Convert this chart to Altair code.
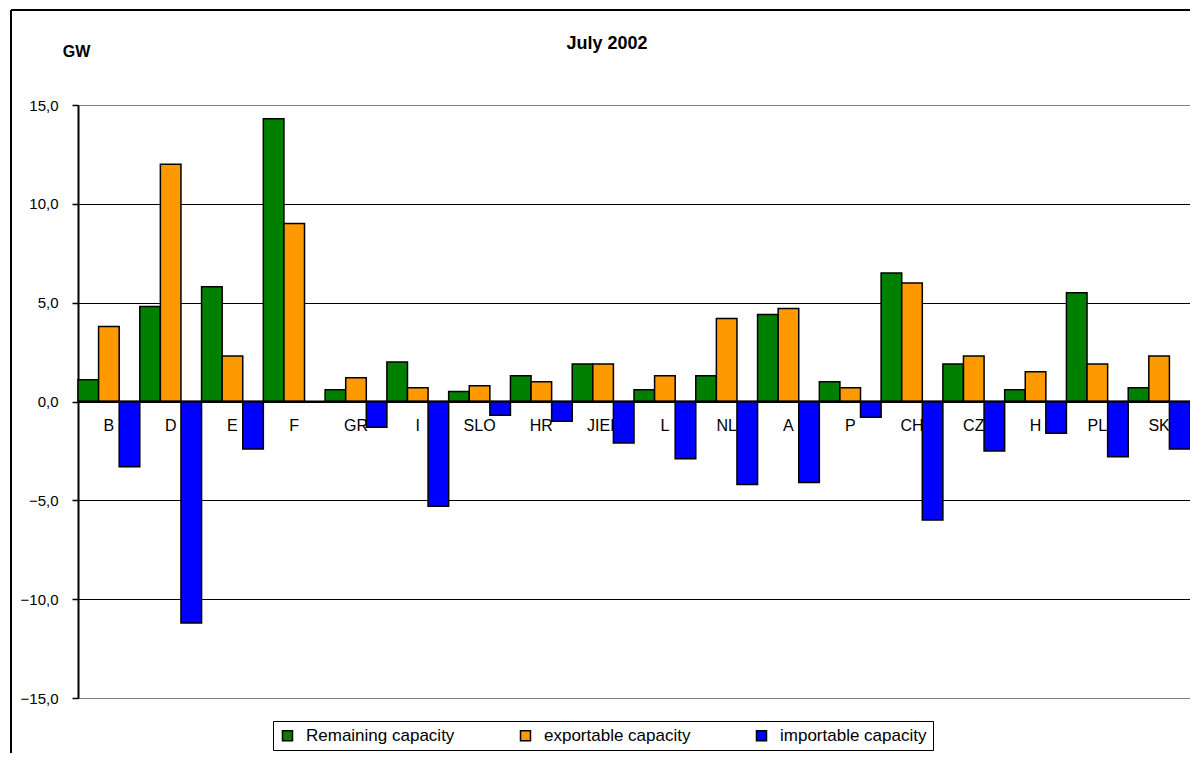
import altair as alt
import pandas as pd

categories = ["B", "D", "E", "F", "GR", "I", "SLO", "HR", "JIEL", "L",
              "NL", "A", "P", "CH", "CZ", "H", "PL", "SK"]
remaining = [1.1, 4.8, 5.8, 14.3, 0.6, 2.0, 0.5, 1.3, 1.9, 0.6,
             1.3, 4.4, 1.0, 6.5, 1.9, 0.6, 5.5, 0.7]
exportable = [3.8, 12.0, 2.3, 9.0, 1.2, 0.7, 0.8, 1.0, 1.9, 1.3,
              4.2, 4.7, 0.7, 6.0, 2.3, 1.5, 1.9, 2.3]
importable = [-3.3, -11.2, -2.4, None, -1.3, -5.3, -0.7, -1.0, -2.1, -2.9,
              -4.2, -4.1, -0.8, -6.0, -2.5, -1.6, -2.8, -2.4]
series = ["Remaining capacity", "exportable capacity", "importable capacity"]
colors = ["#008000", "#FF9900", "#0000FF"]
y_ticks = [-15, -10, -5, 0, 5, 10, 15]
title_text = "July 2002"
unit_text = "GW"

rows = []
for i, c in enumerate(categories):
    for s, vals in zip(series, [remaining, exportable, importable]):
        v = vals[i]
        if v is not None:
            rows.append({"country": c, "series": s, "value": v})
df = pd.DataFrame(rows)
cat_df = pd.DataFrame({"country": categories, "zero": [0] * len(categories)})

FONT = "Liberation Sans"

x_enc = alt.X("country:N", sort=categories,
              scale=alt.Scale(paddingInner=0, paddingOuter=0),
              axis=None)

y_scale = alt.Scale(domain=[-15, 15], nice=False)

labels = alt.Chart(cat_df).mark_text(
    fontSize=16, font=FONT, color="black", dy=24, baseline="middle", align="center"
).encode(
    x=alt.X("country:N", sort=categories,
            scale=alt.Scale(paddingInner=0, paddingOuter=0), axis=None,
            bandPosition=0.5),
    y=alt.Y("zero:Q", scale=y_scale),
    text=alt.Text("country:N"),
)

bars = alt.Chart(df).mark_bar(stroke="black", strokeWidth=1.5).encode(
    x=x_enc,
    xOffset=alt.XOffset("series:N", sort=series),
    y=alt.Y("value:Q", scale=y_scale,
            axis=alt.Axis(values=y_ticks, title=unit_text,
                          labelExpr="replace(format(datum.value, '.1f'), '.', ',')",
                          labelFontSize=15, labelFont=FONT, labelColor="black",
                          labelPadding=14, tickSize=6, tickColor="black",
                          tickWidth=1.5, domainColor="black", domainWidth=2,
                          gridColor={"condition": {"test": "abs(datum.value) == 15", "value": "#808080"}, "value": "black"},
                          gridWidth=1.2,
                          titleAngle=0, titleX=-2, titleY=-54,
                          titleAlign="center", titleBaseline="middle",
                          titleFont=FONT, titleFontSize=16, titleFontWeight="bold",
                          titleColor="black")),
    fill=alt.Fill("series:N", sort=series,
                  scale=alt.Scale(domain=series, range=colors),
                  legend=alt.Legend(title=None, orient="none", direction="horizontal",
                                    legendX=195, legendY=616,
                                    strokeColor="black", padding=6,
                                    symbolType="square", symbolSize=100,
                                    symbolStrokeColor="black", symbolStrokeWidth=1.5,
                                    labelFontSize=17, labelFont=FONT, labelColor="black",
                                    labelOffset=10, columnPadding=62, symbolOffset=0)),
)

zero_rule = alt.Chart(pd.DataFrame({"zero": [0]})).mark_rule(
    color="black", strokeWidth=2
).encode(y=alt.Y("zero:Q", scale=y_scale))

title_mark = alt.Chart(pd.DataFrame({"t": [title_text]})).mark_text(
    font=FONT, fontSize=18, fontWeight="bold", color="black",
    align="center", baseline="middle"
).encode(x=alt.value(529), y=alt.value(-61), text=alt.Text("t:N"))

border_df = pd.DataFrame({"k": [0]})
left_border = alt.Chart(border_df).mark_rule(color="black", strokeWidth=2).encode(
    x=alt.value(-67), y=alt.value(-95), y2=alt.value(700))
top_border = alt.Chart(border_df).mark_rule(color="black", strokeWidth=2).encode(
    x=alt.value(-67), x2=alt.value(1130), y=alt.value(-95))

chart = alt.layer(labels, bars, zero_rule, title_mark, left_border, top_border).properties(
    width=1112, height=593,
    autosize=alt.AutoSizeParams(type="none"),
    padding={"left": 70, "top": 97, "right": 0, "bottom": 55},
).configure_view(stroke="#808080", strokeWidth=1.5).configure(background="white")

chart.save("out.html", embed_options={"renderer": "svg", "actions": False})
